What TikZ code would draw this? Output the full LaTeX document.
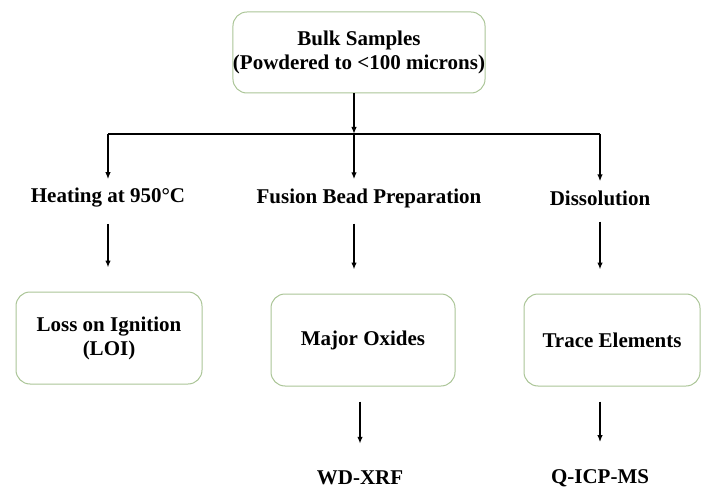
\documentclass[tikz,border=0pt]{standalone}
\usepackage{fontspec}
\setmainfont{Liberation Serif}
\usetikzlibrary{arrows.meta, calc, positioning}
\definecolor{boxgreen}{RGB}{170,196,150}

\begin{document}
\begin{tikzpicture}[x=1pt, y=-1pt,
  box/.style={draw=boxgreen, line width=1pt, rounded corners=14pt, align=center,
    inner sep=0pt, font=\bfseries\fontsize{21}{24}\selectfont},
  label/.style={inner sep=0pt, font=\bfseries\fontsize{21}{24}\selectfont},
  link/.style={line width=1.4pt},
  arr/.style={link, -{Latex[length=7pt, width=5.5pt]}}]
  \useasboundingbox (0, 0) rectangle (701, 489) ;

  \node[box, minimum width=244, minimum height=81] (Bulk) at (359, 52.5) {Bulk Samples\\(Powdered to <100 microns)} ;

  \coordinate (SplitL) at (108, 134) ;
  \coordinate (SplitM) at (354, 134) ;
  \coordinate (SplitR) at (600, 134) ;

  \node[label] (Heat) at (108, 198) {Heating at 950°C} ;
  \node[label] (Fusion) at (369, 198) {Fusion Bead Preparation} ;
  \node[label] (Dissol) at (600, 198) {Dissolution} ;

  \node[box, minimum width=186, minimum height=92] (LOI) at (109, 338) {Loss on Ignition\\(LOI)} ;
  \node[box, minimum width=184, minimum height=92] (Major) at (363, 340) {Major Oxides} ;
  \node[box, minimum width=176, minimum height=92] (Trace) at (612, 340) {Trace Elements} ;

  \node[label] (XRF) at (360, 478) {WD-XRF} ;
  \node[label] (ICP) at (600, 478) {Q-ICP-MS} ;

  \draw[arr] (Bulk.south -| SplitM) -- (SplitM) ;
  \draw[link] (SplitL) -- (SplitR) ;
  \draw[arr, shorten >=9pt] (SplitL) -- (SplitL |- Heat.north) ;
  \draw[arr, shorten >=9pt] (SplitM) -- (SplitM |- Fusion.north) ;
  \draw[arr, shorten >=9pt] (SplitR) -- (SplitR |- Dissol.north) ;

  \draw[arr, shorten <=16pt, shorten >=24pt] (Heat.south) -- (Heat.south |- LOI.north) ;
  \draw[arr, shorten <=16pt, shorten >=24pt] (SplitM |- Fusion.south) -- (SplitM |- Major.north) ;
  \draw[arr, shorten <=16pt, shorten >=24pt] (Dissol.south) -- (Dissol.south |- Trace.north) ;

  \draw[arr, shorten <=15pt, shorten >=27pt] (Major.south -| XRF) -- (XRF.north) ;
  \draw[arr, shorten <=15pt, shorten >=27pt] (Trace.south -| ICP) -- (ICP.north) ;
\end{tikzpicture}
\end{document}
